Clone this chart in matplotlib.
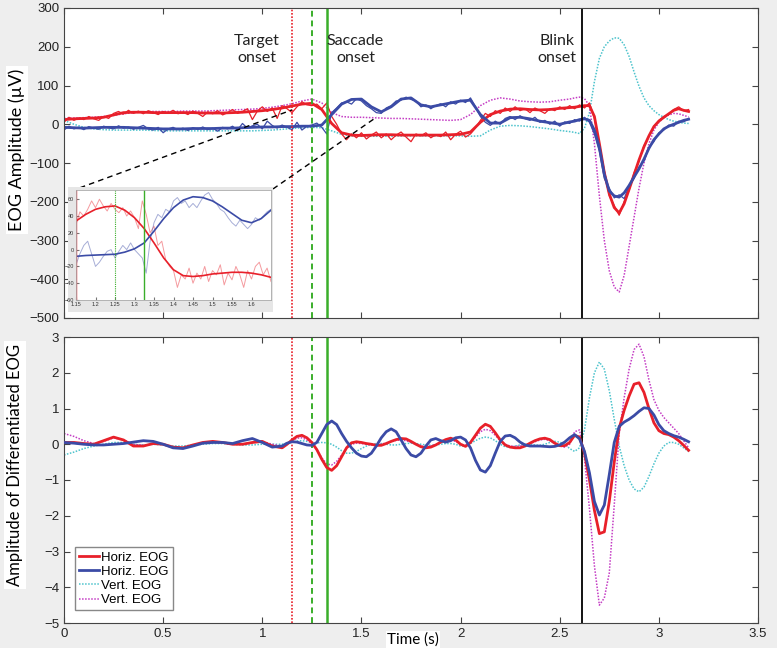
import numpy as np
import matplotlib.pyplot as plt

plt.rcParams['font.family'] = ['Liberation Sans', 'DejaVu Sans']

# colours
RED = '#e8202a'
BLUE = '#3b4ba6'
CYAN = '#4cc3cc'
MAG = '#c43cc4'
GREEN = '#3aae2a'

# ---- top panel: EOG amplitude (uV) ----
t_top = np.r_[np.arange(0, 2.56, 0.05), np.arange(2.575, 3.16, 0.025)]

red_top = [12, 14, 15, 16, 18, 24, 30, 31, 31, 30,
           30, 30, 30, 30, 29, 29, 29, 30, 31, 33,
           35, 38, 42, 47, 52, 54, 38, 2, -22, -28,
           -29, -28, -27, -27, -28, -28, -28, -28, -28, -27,
           -26, -20, 5, 25, 34, 39, 40, 38, 37, 38,
           41, 43,
           44, 46, 48, 48, 20, -50, -125, -180, -215, -229,
           -205, -168, -130, -92, -58, -30, -6, 8, 18, 27,
           36, 40, 36, 33]
blue_top = [-8, -9, -10, -9, -8, -8, -8, -9, -10, -11,
            -12, -12, -12, -11, -11, -11, -10, -10, -9, -8,
            -7, -7, -6, -6, -5, -5, -2, 25, 52, 64,
            65, 45, 32, 45, 65, 68, 50, 45, 50, 55,
            60, 62, 25, 3, 3, 17, 18, 14, 8, 4,
            0, 6,
            8, 12, 14, 10, -15, -60, -130, -172, -185, -188,
            -177, -158, -136, -115, -90, -62, -40, -25, -12, -5,
            0, 5, 10, 13]
cyan_top = [10, 0, -8, -12, -14, -15, -15, -15, -15, -16,
            -17, -17, -17, -17, -17, -17, -17, -17, -17, -17,
            -16, -15, -13, -11, -9, -8, -9, -17, -26, -30,
            -31, -31, -31, -31, -30, -30, -30, -30, -30, -30,
            -30, -31, -30, -15, -5, -3, -4, -6, -9, -12,
            -16, -19,
            -21, -24, -10, 30, 110, 170, 200, 215, 223, 222,
            205, 175, 135, 98, 68, 48, 35, 25, 18, 12,
            8, 5, 3, 2]
mag_top = [15, 16, 17, 18, 20, 23, 27, 30, 32, 33,
           33, 33, 34, 34, 34, 35, 36, 37, 38, 39,
           41, 44, 48, 53, 60, 65, 55, 30, 20, 18,
           18, 17, 16, 15, 15, 14, 13, 12, 11, 10,
           12, 25, 48, 62, 68, 65, 60, 58, 57, 58,
           62, 65,
           68, 70, 66, 48, -50, -185, -300, -378, -420, -433,
           -390, -315, -240, -165, -100, -50, -15, 5, 17, 24,
           28, 27, 23, 19]

# unfiltered horizontal traces, one sample every 25 ms from 0 to 3.15 s
red_raw = [5, 18, 10, 16, 12, 20, 14, 10, 20, 15,
           28, 33, 26, 36, 28, 34, 27, 35, 30, 25,
           33, 28, 36, 27, 31, 25, 34, 28, 20, 32,
           27, 35, 24, 30, 38, 28, 33, 40, 12, 34,
           45, 33, 42, 15, 48, 40, 30, 45, 58, 50,
           48, 52, 40, 55, 20, 0, -25, -40, -25, -35,
           -22, -38, -28, -20, -35, -25, -40, -28, -20, -33,
           -45, -25, -30, -22, -35, -27, -32, -20, -40, -26,
           -18, -33, -25, -10, 10, 28, 20, 35, 28, 42,
           33, 45, 35, 40, 30, 42, 35, 28, 40, 35,
           45, 38, 48, 40, 50, 42, 55, 15, -55, -120,
           -185, -210, -235, -200, -170, -125, -95, -55, -32, -5,
           10, 20, 25, 38, 45, 35, 38]
blue_raw = [-15, -5, -12, -8, -14, -6, -10, -13, -5, -9,
            -12, -4, -10, -7, -13, -8, -3, -12, -15, -8,
            -22, -12, -8, -14, -10, -16, -9, -13, -7, -14,
            -10, -18, -8, -12, -5, -15, 2, -10, -4, 0,
            -12, 8, -3, -10, -2, -8, -14, 5, -15, -5,
            -2, 3, -8, -25, 30, 42, 55, 58, 52, 66,
            60, 48, 40, 30, 28, 42, 48, 60, 62, 70,
            64, 60, 45, 50, 40, 48, 53, 45, 58, 52,
            62, 56, 68, 45, 20, 5, -3, 8, 0, 15,
            20, 12, 22, 14, 10, 18, 5, 10, 0, 8,
            -5, 6, 2, 12, 8, 18, 5, -25, -70, -140,
            -165, -190, -182, -192, -160, -140, -110, -95, -60, -45,
            -22, -15, -2, -5, 8, 6, 15]
t_raw = np.linspace(0, 3.15, len(red_raw))

# ---- inset: zoom on the saccade ----
t_ins = np.arange(1.15, 1.66, 0.025)
red_ins = [34, 42, 48, 51, 52, 47, 38, 25, 8, -10, -24,
           -31, -32, -31, -29, -28, -27, -27, -28, -30, -33]
blue_ins = [-8, -7, -6.5, -6, -5.5, -3, 1, 8, 22, 37, 50,
            59, 63, 62, 58, 51, 43, 35, 32, 37, 47]
red_ins_raw = [30, 45, 40, 48, 58, 50, 60, 52, 46, 55,
               48, 44, 50, 40, 46, 38, 25, 58, 42, 20,
               28, 5, 10, -12, -20, -25, -45, -30, -35, -22,
               -40, -28, -35, -20, -38, -25, -30, -18, -42, -28,
               -36, -20, -30, -45, -25, -35, -20, -15, -30, -22, -38]
blue_ins_raw = [-18, -5, 5, 10, -5, -20, -15, -8, -2, 0,
                -10, -2, 5, 0, 8, 0, -5, -10, -28, 10,
                32, 42, 38, 48, 45, 58, 62, 55, 58, 50,
                55, 50, 58, 65, 68, 60, 55, 48, 45, 38,
                32, 28, 35, 30, 25, 30, 38, 35, 40, 45, 48]
t_ins_raw = np.linspace(1.15, 1.65, len(red_ins_raw))

# ---- bottom panel: differentiated EOG ----
t_bot = np.r_[np.arange(0, 1.06, 0.05), np.arange(1.1, 3.16, 0.025)]

red_bot = [0.05, 0.05, 0.02, 0.0, 0.1, 0.2, 0.12, -0.05, -0.05, 0.02,
           0.0, -0.08, -0.1, -0.02, 0.05, 0.08, 0.05, 0.0, 0.0, 0.05,
           0.08, -0.05,
           -0.1, 0.0, 0.12, 0.22, 0.25, 0.18, 0.05, -0.15, -0.42, -0.65,
           -0.73, -0.6, -0.35, -0.1, 0.04, 0.07, 0.05, 0.02, 0.0, -0.03,
           -0.03, 0.02, 0.08, 0.13, 0.16, 0.15, 0.08, 0.0, -0.07, -0.1,
           -0.08, -0.02, 0.06, 0.13, 0.17, 0.12, 0.0, -0.06, 0.05, 0.25,
           0.45, 0.56, 0.5, 0.32, 0.12, -0.02, -0.08, -0.1, -0.1, -0.05,
           0.03, 0.1, 0.15, 0.17, 0.13, 0.03, -0.04, -0.04, 0.05, 0.25,
           0.2, -0.25, -1.0, -1.85, -2.5, -2.45, -1.6, -0.5, 0.45, 0.95,
           1.35, 1.68, 1.72, 1.45, 1.0, 0.6, 0.38, 0.3, 0.27, 0.2,
           0.1, -0.03, -0.17]
blue_bot = [0.05, 0.03, 0.0, -0.02, -0.02, 0.0, 0.02, 0.06, 0.1, 0.08,
            0.0, -0.1, -0.12, -0.05, 0.03, 0.05, 0.05, 0.02, 0.1, 0.16,
            0.05, -0.08,
            -0.05, 0.03, 0.07, 0.06, 0.02, -0.02, -0.03, 0.05, 0.3, 0.55,
            0.65, 0.55, 0.3, 0.08, -0.1, -0.25, -0.33, -0.35, -0.25, -0.05,
            0.18, 0.35, 0.43, 0.35, 0.12, -0.12, -0.3, -0.35, -0.25, -0.05,
            0.12, 0.16, 0.1, 0.06, 0.1, 0.18, 0.2, 0.12, -0.1, -0.45,
            -0.72, -0.78, -0.6, -0.25, 0.08, 0.23, 0.25, 0.18, 0.06, -0.02,
            -0.05, -0.05, -0.05, -0.06, -0.07, -0.06, -0.02, 0.06, 0.18, 0.27,
            0.15, -0.2, -0.8, -1.6, -1.98, -1.7, -0.85, 0.05, 0.5, 0.62,
            0.7, 0.8, 0.92, 1.02, 1.0, 0.82, 0.55, 0.38, 0.3, 0.24,
            0.2, 0.14, 0.07]
cyan_bot = [-0.3, -0.22, -0.12, -0.05, 0.0, 0.05, 0.05, 0.0, -0.02, 0.0,
            -0.02, -0.05, -0.05, -0.02, 0.0, 0.02, 0.02, 0.0, -0.02, -0.02,
            0.0, 0.0,
            0.0, 0.03, 0.06, 0.09, 0.1, 0.08, 0.05, 0.04, 0.05, 0.04,
            0.0, -0.08, -0.18, -0.25, -0.25, -0.2, -0.12, -0.05, 0.0, 0.02,
            0.02, 0.0, -0.02, -0.02, 0.0, 0.02, 0.03, 0.02, 0.0, -0.02,
            -0.03, -0.02, 0.0, 0.02, 0.02, 0.0, -0.05, -0.05, 0.02, 0.1,
            0.17, 0.2, 0.18, 0.1, 0.0, -0.07, -0.08, -0.05, -0.02, 0.0,
            0.0, -0.02, -0.03, 0.0, 0.05, 0.08, 0.06, 0.0, -0.12, -0.2,
            -0.1, 0.4, 1.3, 2.0, 2.3, 2.1, 1.5, 0.7, -0.05, -0.6,
            -1.0, -1.25, -1.33, -1.2, -0.9, -0.55, -0.25, -0.05, 0.05, 0.05,
            0.0, -0.1, -0.2]
mag_bot = [0.3, 0.22, 0.1, 0.02, 0.08, 0.18, 0.12, 0.0, -0.03, 0.0,
           0.0, -0.08, -0.1, -0.03, 0.04, 0.06, 0.04, 0.0, 0.0, 0.04,
           0.08, 0.0,
           -0.05, 0.02, 0.1, 0.17, 0.18, 0.12, 0.02, -0.15, -0.38, -0.55,
           -0.58, -0.48, -0.3, -0.12, 0.0, 0.03, 0.02, 0.0, -0.02, -0.02,
           0.0, 0.04, 0.08, 0.11, 0.12, 0.1, 0.05, 0.0, -0.05, -0.07,
           -0.05, 0.0, 0.05, 0.1, 0.12, 0.08, 0.0, -0.03, 0.05, 0.2,
           0.35, 0.42, 0.38, 0.25, 0.1, 0.0, -0.05, -0.06, -0.05, -0.02,
           0.02, 0.07, 0.12, 0.14, 0.1, 0.02, -0.05, -0.08, 0.0, 0.35,
           0.4, -0.4, -1.8, -3.4, -4.5, -4.3, -3.6, -1.7, 0.3, 1.3,
           2.1, 2.65, 2.8, 2.45, 1.8, 1.25, 0.95, 0.75, 0.6, 0.45,
           0.3, 0.1, -0.1]

# event markers (s)
target_on = 1.15
cue_on = 1.25
saccade_on = 1.325
blink_on = 2.61

x_ticks = np.arange(0, 3.51, 0.5)
x_labels = ['0', '0.5', '1', '1.5', '2', '2.5', '3', '3.5']
top_ticks = np.arange(-500, 301, 100)
bot_ticks = np.arange(-5, 4, 1)
ins_xticks = np.arange(1.15, 1.61, 0.05)
ins_xlabels = ['1.15', '1.2', '1.25', '1.3', '1.35', '1.4', '1.45', '1.5', '1.55', '1.6']
ins_yticks = np.arange(-60, 61, 20)

dots = (0, (1, 1))

fig = plt.figure(figsize=(7.77, 6.48), dpi=100, facecolor='#eeeeee')
ax1 = fig.add_axes([64/777, 1-318/648, 694/777, 310/648])
ax2 = fig.add_axes([64/777, 1-623/648, 694/777, 286/648])

# top panel
ax1.plot(t_top, cyan_top, color=CYAN, ls=dots, lw=1.1)
ax1.plot(t_top, mag_top, color=MAG, ls=dots, lw=1.1)
ax1.plot(t_raw, red_raw, color=RED, lw=0.9)
ax1.plot(t_raw, blue_raw, color=BLUE, lw=0.9)
ax1.plot(t_top, red_top, color=RED, lw=2.0)
ax1.plot(t_top, blue_top, color=BLUE, lw=2.0)

# bottom panel
l_red, = ax2.plot(t_bot, red_bot, color=RED, lw=2.0, zorder=3)
l_blue, = ax2.plot(t_bot, blue_bot, color=BLUE, lw=2.0, zorder=3)
l_cyan, = ax2.plot(t_bot, cyan_bot, color=CYAN, ls=dots, lw=1.1)
l_mag, = ax2.plot(t_bot, mag_bot, color=MAG, ls=dots, lw=1.1)

for ax in (ax1, ax2):
    ax.axvline(target_on, color=RED, ls=dots, lw=1.2)
    ax.axvline(cue_on, color=GREEN, ls=(0, (3, 2)), lw=1.4)
    ax.axvline(saccade_on, color=GREEN, lw=1.8)
    ax.axvline(blink_on, color='black', lw=1.3)
    ax.set_xlim(0, 3.5)
    ax.set_xticks(x_ticks)
    ax.tick_params(direction='in', top=True, right=True, labelsize=9.5,
                   length=4, color='#444444', labelcolor='#222222')
    for sp in ax.spines.values():
        sp.set_color('#444444')
        sp.set_linewidth(0.8)

ax1.set_ylim(-500, 300)
ax1.set_yticks(top_ticks)
ax1.set_xticklabels([])
ax2.set_ylim(-5, 3)
ax2.set_yticks(bot_ticks)
ax2.set_xticklabels(x_labels)

# event labels
for x, s in [(0.973, 'Target\nonset'), (1.47, 'Saccade\nonset'), (2.485, 'Blink\nonset')]:
    ax1.text(x, 192, s, ha='center', va='center', fontsize=11.5,
             family=['Lato', 'DejaVu Sans'], linespacing=1.25, color='#222222')

# dashed lines from the inset to the zoomed region
ax1.plot([0.08, 1.15], [-164, 37], color='black', ls=(0, (4, 3)), lw=1, clip_on=False)
ax1.plot([1.054, 1.578], [-167, 19], color='black', ls=(0, (4, 3)), lw=1, clip_on=False)

ax2.legend([l_red, l_blue, l_cyan, l_mag],
           ['Horiz. EOG', 'Horiz. EOG', 'Vert. EOG', 'Vert. EOG'],
           loc='lower left', bbox_to_anchor=(0.016, 0.045), fontsize=9.5,
           fancybox=False, edgecolor='#888888', framealpha=1,
           handlelength=1.5, handletextpad=0.2, labelspacing=0.15,
           borderpad=0.3, borderaxespad=0)

# inset with grey surround
panel = fig.add_axes([68/777, 1-312/648, 205/777, 125/648])
panel.set_facecolor('#e6e6e6')
panel.set_xticks([])
panel.set_yticks([])
for sp in panel.spines.values():
    sp.set_visible(False)

axi = fig.add_axes([76/777, 1-300/648, 195/777, 110/648])
axi.plot(t_ins_raw, red_ins_raw, color=RED, lw=0.7, alpha=0.45)
axi.plot(t_ins_raw, blue_ins_raw, color=BLUE, lw=0.7, alpha=0.45)
axi.plot(t_ins, red_ins, color=RED, lw=1.2)
axi.plot(t_ins, blue_ins, color=BLUE, lw=1.2)
axi.axvline(target_on, color=RED, lw=1.0)
axi.axvline(cue_on, color=GREEN, ls=dots, lw=0.8)
axi.axvline(saccade_on, color=GREEN, lw=1.0)
axi.set_xlim(1.15, 1.65)
axi.set_ylim(-60, 71)
axi.set_xticks(ins_xticks)
axi.set_xticklabels(ins_xlabels)
axi.set_yticks(ins_yticks)
axi.tick_params(direction='in', labelsize=4, length=2, pad=1.5,
                color='#777777', labelcolor='#333333')
for sp in axi.spines.values():
    sp.set_color('#aaaaaa')
    sp.set_linewidth(0.6)

# axis labels
fig.text(0.022, 1-150/648, 'EOG Amplitude (\u00b5V)', rotation=90, ha='center', va='center',
         fontsize=13, family=['Lato', 'DejaVu Sans'],
         bbox=dict(fc='white', ec='none', pad=2))
fig.text(0.019, 1-465/648, 'Amplitude of Differentiated EOG', rotation=90, ha='center', va='center',
         fontsize=12, family=['Lato', 'DejaVu Sans'],
         bbox=dict(fc='white', ec='none', pad=2))
fig.text(413/777, 1-640/648, 'Time (s)', ha='center', va='center', fontsize=11,
         family=['Lato', 'DejaVu Sans'], bbox=dict(fc='white', ec='none', pad=1))

fig.savefig('out.png', dpi=100, facecolor=fig.get_facecolor())
